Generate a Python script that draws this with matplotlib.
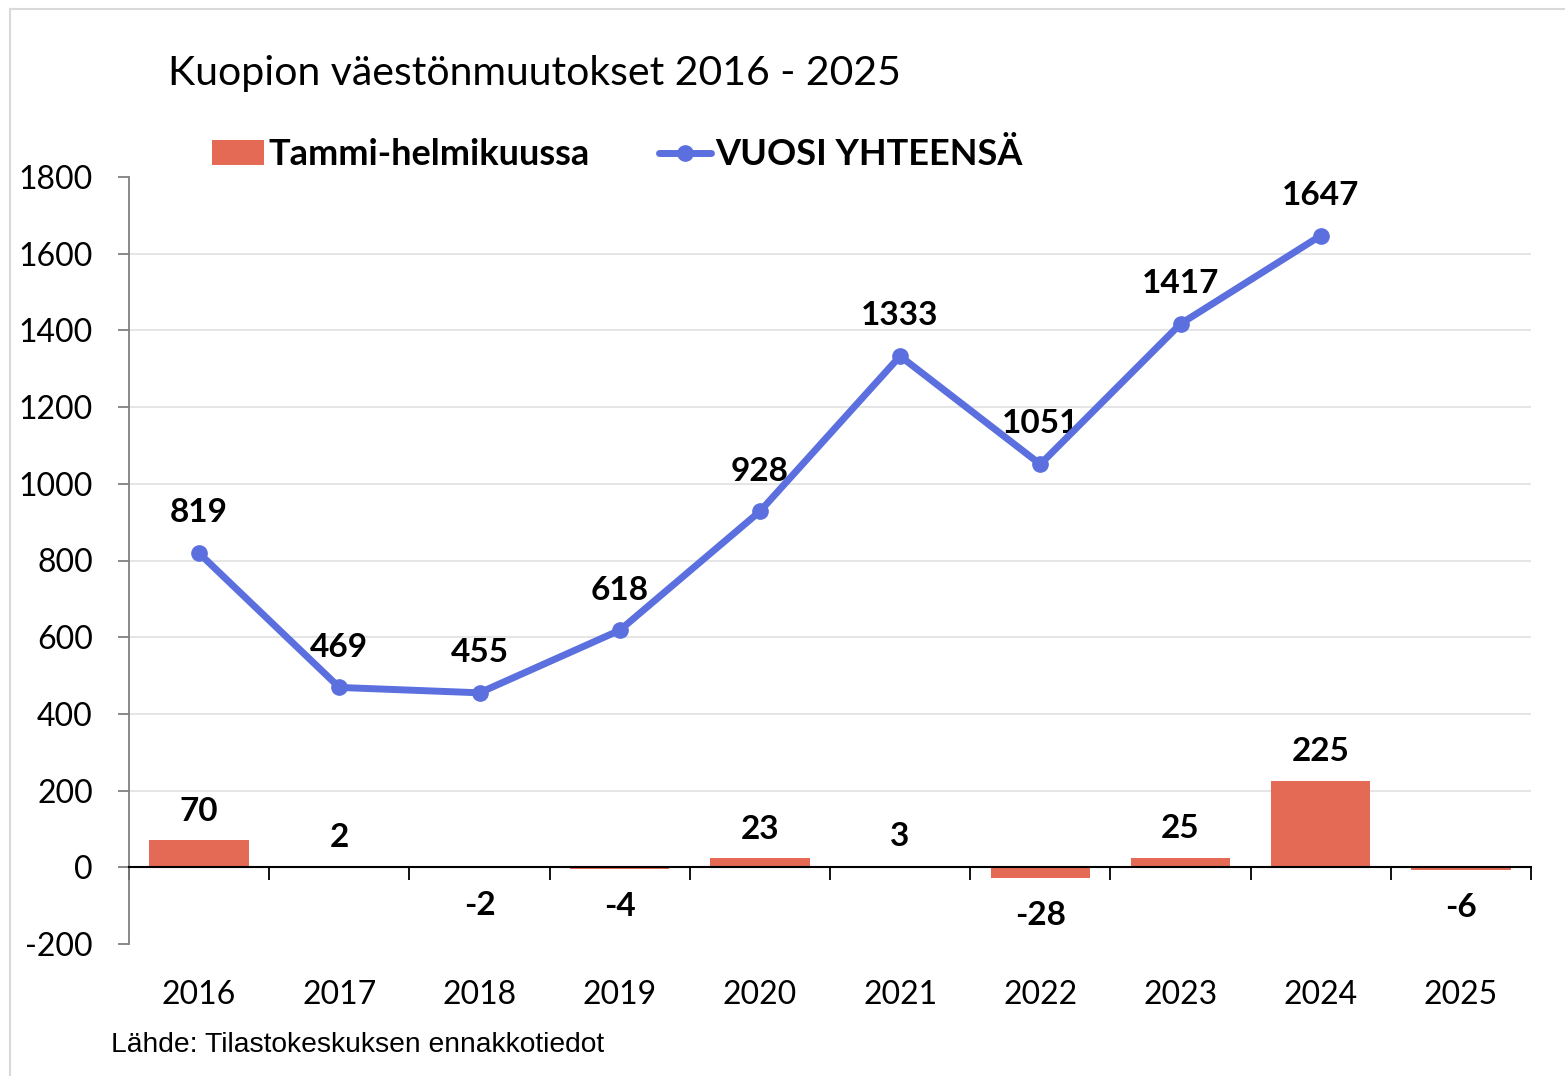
import matplotlib
matplotlib.use("Agg")
import matplotlib.pyplot as plt
from matplotlib.lines import Line2D
from matplotlib.patches import Patch

years = ["2016", "2017", "2018", "2019", "2020", "2021", "2022", "2023", "2024", "2025"]
jan_feb = [70, 2, -2, -4, 23, 3, -28, 25, 225, -6]
year_total = [819, 469, 455, 618, 928, 1333, 1051, 1417, 1647]

BAR = "#e46a55"
LINE = "#5b70de"
FONT = ["Lato", "DejaVu Sans"]

plt.rcParams["font.family"] = FONT
plt.rcParams["axes.unicode_minus"] = False

fig = plt.figure(figsize=(15.65, 10.76), dpi=100)
ax = fig.add_axes([129 / 1565, 1 - 944 / 1076, 1402 / 1565, 767 / 1076])

x = list(range(len(years)))
ax.bar(x, jan_feb, width=0.71, color=BAR, zorder=3)
xl = list(range(len(year_total)))
ax.plot(xl, year_total, color=LINE, lw=5, marker="o", ms=11,
        solid_capstyle="round", zorder=5)

# labels
for i, v in zip(xl, year_total):
    ax.annotate(str(v), (i, v), xytext=(0, 29), textcoords="offset points",
                ha="center", va="center", fontsize=24, fontweight="bold")
for i, v in zip(x, jan_feb):
    off = 21 if v >= 0 else -27
    ax.annotate(str(v), (i, v), xytext=(0, off), textcoords="offset points",
                ha="center", va="center", fontsize=24, fontweight="bold")

ax.set_xlim(-0.5, len(years) - 0.5)
ax.set_ylim(-200, 1800)
ax.set_yticks(range(-200, 1801, 200))
ax.tick_params(axis="y", labelsize=23, length=8, color="#808080", width=1.3, pad=18)
for g in range(200, 1601, 200):
    ax.axhline(g, color="#e3e3e3", lw=1.3, zorder=1)

for s in ["top", "right"]:
    ax.spines[s].set_visible(False)
ax.spines["left"].set_color("#808080")
ax.spines["left"].set_linewidth(1.3)
ax.spines["bottom"].set_position(("data", 0))
ax.spines["bottom"].set_color("black")
ax.spines["bottom"].set_linewidth(1.5)
ax.spines["bottom"].set_zorder(4)

ax.set_xticks([i - 0.5 for i in range(len(years) + 1)])
ax.set_xticklabels([])
ax.tick_params(axis="x", length=9, width=1.3, color="black")
for i, y in enumerate(years):
    ax.text(i, -0.066, y, transform=ax.get_xaxis_transform(),
            ha="center", va="center", fontsize=23)

fig.text(168 / 1565, 1 - 73 / 1076, "Kuopion väestönmuutokset 2016 - 2025",
         fontsize=29.5, ha="left", va="center")
fig.text(111 / 1565, 1 - 1045 / 1076, "Lähde: Tilastokeskuksen ennakkotiedot",
         fontsize=20.3, ha="left", va="center", family="Liberation Sans")

handles = [
    Patch(facecolor=BAR, label="Tammi-helmikuussa"),
    Line2D([0], [0], color=LINE, lw=5, marker="o", ms=11,
           solid_capstyle="round", label="VUOSI YHTEENSÄ"),
]
fig.legend(handles=handles, loc="center left", bbox_to_anchor=(212 / 1565, 1 - 155 / 1076),
           ncol=2, frameon=False, borderpad=0, borderaxespad=0, handlelength=1.45,
           handletextpad=0.12, columnspacing=1.9,
           prop={"family": FONT, "weight": "bold", "size": 26})

# outer frame
fig.add_artist(Line2D([10 / 1565, 1], [1 - 9 / 1076, 1 - 9 / 1076],
                      transform=fig.transFigure, color="#d9d9d9", lw=1.5))
fig.add_artist(Line2D([10 / 1565, 10 / 1565], [0, 1 - 9 / 1076],
                      transform=fig.transFigure, color="#d9d9d9", lw=1.5))

fig.savefig("out.png", dpi=100)
